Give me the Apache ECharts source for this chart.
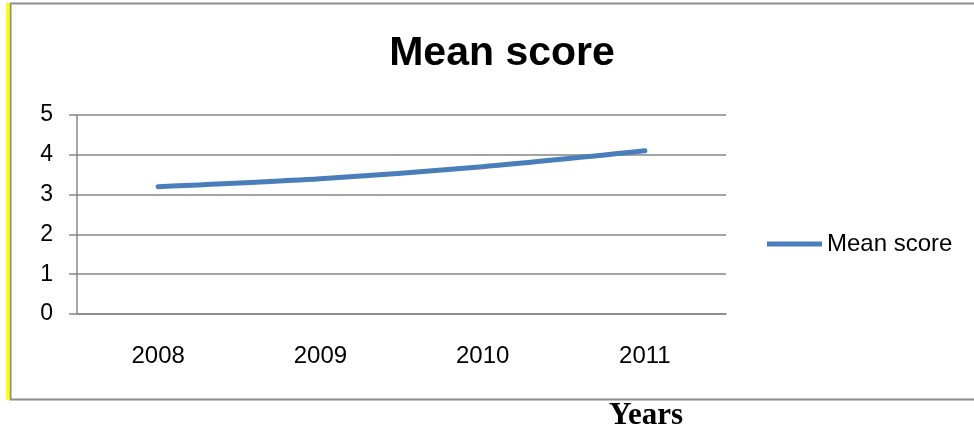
<!DOCTYPE html>
<html>
  <head>
    <meta charset="utf-8" />
    <title>Mean score</title>
    <script src="https://cdn.jsdelivr.net/npm/echarts@6/dist/echarts.min.js"></script>
    <style>
      html, body { margin: 0; padding: 0; background: #fff; }
    </style>
  </head>
  <body>
    <div id="chart" style="width: 974px; height: 432px"></div>

    <script>
      // values
      const years = ['2008', '2009', '2010', '2011'];
      const meanScore = [3.2, 3.4, 3.7, 4.1];
      const seriesName = 'Mean score';
      const axisTitle = 'Years';

      const gray = '#868686';
      const blue = '#4a7ebb';

      let chart = echarts.init(document.getElementById('chart'), null, {
        width: 974,
        height: 432,
      });

      chart.setOption({
        animation: false,
        title: {
          text: 'Mean score',
          left: 497,
          top: 28,
          textAlign: 'center',
          textStyle: {
            fontFamily: 'Liberation Sans',
            fontSize: 41,
            fontWeight: 'bold',
            color: '#000',
          },
        },
        legend: {
          left: 767,
          top: 232,
          padding: 0,
          itemWidth: 55,
          itemHeight: 5,
          itemGap: 0,
          icon: 'rect',
          textStyle: {
            fontFamily: 'Liberation Sans',
            fontSize: 24,
            color: '#000',
          },
          data: [seriesName],
        },
        grid: {
          left: 77,
          right: 248,
          top: 115,
          bottom: 118,
        },
        xAxis: {
          type: 'category',
          data: years,
          boundaryGap: true,
          axisLine: { lineStyle: { color: gray, width: 1.5 } },
          axisTick: { length: 7, lineStyle: { color: gray, width: 1.5 } },
          axisLabel: {
            margin: 30,
            fontFamily: 'Liberation Sans',
            fontSize: 24,
            color: '#000',
          },
        },
        yAxis: {
          type: 'value',
          min: 0,
          max: 5,
          interval: 1,
          axisLine: { show: true, lineStyle: { color: gray, width: 1.5 } },
          axisTick: { show: true, length: 8, lineStyle: { color: gray, width: 1.5 } },
          splitLine: { lineStyle: { color: gray, width: 1.5 } },
          axisLabel: {
            margin: 24,
            fontFamily: 'Liberation Sans',
            fontSize: 23,
            color: '#000',
          },
        },
        graphic: [
          // frame around the chart
          {
            type: 'rect',
            shape: { x: 10.5, y: 3.5, width: 970, height: 396 },
            style: { fill: 'none', stroke: '#8c8c8c', lineWidth: 2 },
            silent: true,
          },
          {
            type: 'rect',
            shape: { x: 6, y: 3, width: 3.5, height: 397 },
            style: { fill: '#ffff00' },
            silent: true,
          },
          {
            type: 'text',
            left: 609,
            top: 400,
            style: {
              text: axisTitle,
              fontFamily: 'Liberation Serif',
              fontSize: 31,
              fontWeight: 'bold',
              fill: '#000',
            },
          },
        ],
        series: [
          {
            name: seriesName,
            type: 'line',
            data: meanScore,
            symbol: 'none',
            smooth: 0.3,
            lineStyle: { color: blue, width: 5, cap: 'round' },
            itemStyle: { color: blue },
          },
        ],
      });
    </script>
  </body>
</html>
